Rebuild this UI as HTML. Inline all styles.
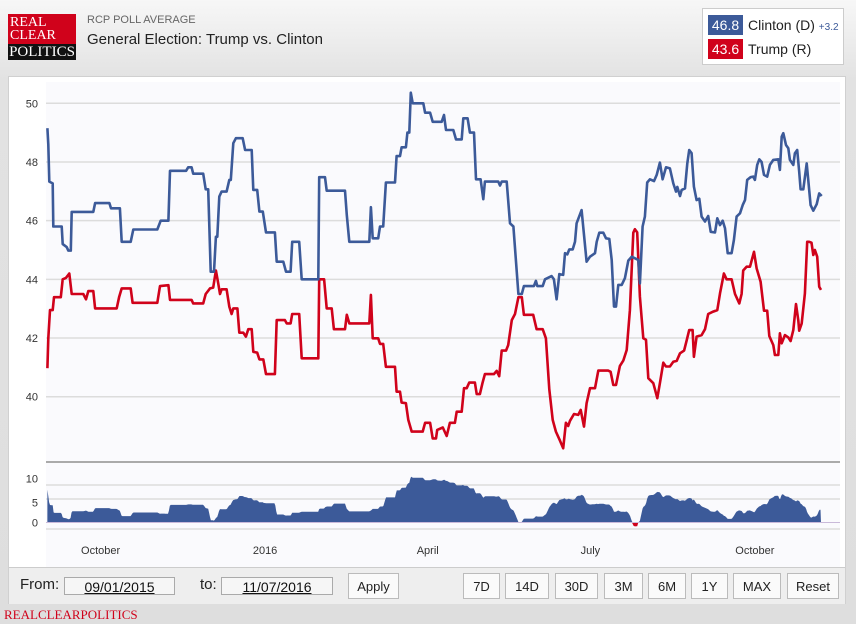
<!DOCTYPE html>
<html><head><meta charset="utf-8"><style>
body{margin:0;width:856px;height:624px;overflow:hidden;font-family:"Liberation Sans",sans-serif;background:linear-gradient(#f7f7f7,#e2e2e2 80px,#dedede);position:relative}
.abs{position:absolute}
.logo{left:8px;top:14px;width:68px;height:46px;background:#d0021b;font-family:"Liberation Serif",serif;color:#fff;font-size:14px;line-height:13px;padding:0}
.logo .b{position:absolute;left:0;top:30px;width:68px;height:16px;background:#111;font-size:15px;line-height:16px;text-align:center}
.legend{left:702px;top:8px;width:140px;height:55px;background:#fff;border:1px solid #ccc}
.badge{position:absolute;left:5px;width:35px;height:20px;color:#fff;font-size:14px;line-height:20px;text-align:center}
.lt{position:absolute;left:45px;font-size:14px;color:#222}
.panel{left:8px;top:76px;width:838px;height:528px;background:#fff;border:1px solid #d0d0d0;box-sizing:border-box}
.ctrl{left:9px;top:567px;width:836px;height:36px;background:#eee;border-top:1px solid #ccc}
.inp{position:absolute;top:9px;height:18px;border:1px solid #aaa;background:#f6f6f6;font-size:14px;text-align:center;line-height:18px;text-decoration:underline;color:#111;box-sizing:border-box}
.btn{position:absolute;top:5px;height:26px;border:1px solid #bbb;background:#fafafa;font-size:13px;line-height:26px;text-align:center;box-sizing:border-box;color:#222}
</style></head><body>
<div class="abs logo"><div style="padding:2px 0 0 2px">REAL<br>CLEAR</div><div class="b">POLITICS</div></div>
<div class="abs" style="left:87px;top:14px;font-size:11px;color:#666">RCP POLL AVERAGE</div>
<div class="abs" style="left:87px;top:31px;font-size:15px;color:#222">General Election: Trump vs. Clinton</div>
<div class="abs legend">
 <div class="badge" style="top:6px;background:#3c5a99">46.8</div>
 <div class="lt" style="top:8px">Clinton (D) <span style="font-size:10px;color:#3c5a99">+3.2</span></div>
 <div class="badge" style="top:30px;background:#d0021b">43.6</div>
 <div class="lt" style="top:32px">Trump (R)</div>
</div>
<div class="abs panel"></div>
<svg class="abs" style="left:0;top:0" width="856" height="624" id="chart"></svg>
<div class="abs ctrl">
 <div class="abs" style="left:11px;top:8px;font-size:15px;color:#222">From:</div>
 <div class="inp" style="left:55px;width:111px">09/01/2015</div>
 <div class="abs" style="left:191px;top:8px;font-size:15px;color:#222">to:</div>
 <div class="inp" style="left:212px;width:112px">11/07/2016</div>
 <div class="btn" style="left:339px;width:51px">Apply</div>
 <div class="btn" style="left:454px;width:37px">7D</div>
 <div class="btn" style="left:496px;width:44px">14D</div>
 <div class="btn" style="left:546px;width:43px">30D</div>
 <div class="btn" style="left:595px;width:39px">3M</div>
 <div class="btn" style="left:639px;width:38px">6M</div>
 <div class="btn" style="left:682px;width:37px">1Y</div>
 <div class="btn" style="left:724px;width:48px">MAX</div>
 <div class="btn" style="left:778px;width:52px">Reset</div>
</div>
<div class="abs" style="left:4px;top:607px;font-family:'Liberation Serif',serif;font-size:13px;color:#d0021b">REALCLEARPOLITICS</div>
<script>
const clintonDays=[0.2,0.7,1.3,3.2,3.5,8.2,8.8,11.0,11.9,13.3,13.8,25.9,26.9,34.9,35.8,40.8,41.8,46.8,48.3,61.7,63.6,67.9,68.8,77.8,79.0,80.9,81.8,87.4,88.8,90.2,91.6,93.4,94.5,95.3,96.4,97.7,100.5,102.0,102.8,104.2,105.7,109.5,110.8,114.5,115.4,117.6,118.8,120.7,122.5,127.5,128.5,132.2,133.7,136.3,137.2,141.1,142.5,151.8,152.3,155.5,156.5,166.7,167.7,169.1,180.3,181.2,182.2,185.3,186.3,188.1,189.6,194.7,195.6,197.5,198.4,200.8,201.6,202.7,203.5,204.6,210.5,211.5,214.3,215.8,220.8,222.1,223.2,227.3,228.8,232.0,232.9,235.3,236.6,238.9,240.0,242.6,244.1,245.0,252.5,253.4,254.4,257.2,259.0,260.9,263.7,265.6,266.8,272.4,273.5,274.3,277.3,278.6,282.3,283.6,285.1,286.6,288.8,289.8,291.1,292.2,294.1,295.4,296.3,299.1,301.9,303.8,306.6,307.5,309.0,311.2,312.7,314.6,315.9,317.2,318.3,319.6,321.5,323.3,325.2,327.1,329.5,330.8,331.7,333.2,334.5,335.8,337.3,339.6,341.1,342.9,344.4,346.3,348.5,350.4,351.9,352.6,354.1,355.1,356.9,358.2,359.3,360.6,361.9,363.4,364.9,366.2,368.1,369.9,371.3,373.7,375.0,376.5,378.0,379.3,380.8,383.0,384.3,385.8,387.7,389.2,390.5,391.7,393.6,395.1,396.0,397.3,398.5,399.8,401.1,402.9,404.4,406.3,409.1,410.0,411.0,411.9,413.4,414.7,415.6,417.5,418.4,419.7,420.8,421.6,423.1,425.0,427.2,428.7,430.6,432.0,433.4];
const clintonVals=[49.15,48.6,47.33,47.27,45.8,45.8,45.2,45.1,44.98,44.98,46.3,46.3,46.6,46.6,46.42,46.42,45.28,45.28,45.7,45.7,46.0,46.0,47.7,47.7,47.82,47.82,47.6,47.6,47.07,47.07,44.26,44.26,45.45,45.45,46.82,46.99,46.99,47.39,47.39,48.64,48.81,48.81,48.41,48.41,47.05,47.05,46.31,46.31,45.6,45.6,44.6,44.6,44.26,44.26,45.28,45.28,44.0,44.0,47.48,47.48,47.02,47.02,46.19,45.28,45.28,46.46,45.4,45.4,45.8,45.8,47.3,47.3,48.2,48.2,48.5,48.5,49.0,49.0,50.36,50.0,50.0,49.68,49.68,49.37,49.37,49.6,49.09,49.09,48.77,48.77,49.49,49.49,49.0,49.0,47.41,47.41,46.73,47.33,47.33,47.2,47.33,47.33,45.91,45.8,43.5,43.5,43.77,43.77,43.95,43.77,43.77,44.0,44.11,44.0,43.32,44.18,44.15,44.89,44.85,45.02,45.02,45.28,45.91,46.36,44.6,44.77,44.89,45.28,45.59,45.59,45.4,45.38,44.66,43.07,43.07,43.81,43.81,44.04,44.64,44.77,44.7,44.66,43.86,45.8,46.14,47.3,47.41,47.35,47.56,47.98,47.41,47.82,47.78,47.27,46.99,47.15,46.84,47.05,47.1,47.95,48.41,48.3,47.16,46.7,46.75,46.14,45.97,46.16,45.62,45.6,46.08,45.85,46.0,45.74,44.89,44.89,45.34,46.14,46.25,46.53,46.7,47.39,47.48,47.5,47.39,47.9,48.09,48.0,47.56,47.5,47.9,48.07,48.09,47.73,48.86,48.98,48.58,48.47,48.07,47.9,48.3,48.41,47.67,47.07,47.07,47.95,46.53,46.34,46.56,46.93,46.84];
const trumpDays=[0.2,0.7,1.7,3.2,3.9,7.7,8.8,10.6,12.5,13.8,20.3,21.8,23.1,25.9,26.9,39.0,40.4,41.8,46.8,47.9,61.7,63.2,67.9,68.8,80.9,81.8,87.4,88.8,91.2,93.0,94.5,95.8,96.8,97.7,100.5,102.0,103.3,104.2,106.5,107.6,109.8,111.3,112.6,114.5,115.4,117.6,118.8,121.0,122.5,127.5,128.5,133.1,134.1,136.3,137.2,141.1,142.5,151.8,152.3,155.0,156.5,159.3,160.5,166.7,167.7,169.1,180.3,181.2,182.2,185.3,186.3,188.1,189.6,194.7,195.6,197.5,198.4,200.8,202.1,204.0,210.2,211.5,214.3,215.8,217.6,218.3,221.4,223.6,225.4,228.2,229.2,232.0,233.3,234.8,236.2,239.4,240.4,242.2,243.7,245.0,250.0,251.6,253.0,254.4,256.8,258.0,260.0,261.8,263.7,265.6,266.8,272.0,273.9,277.3,279.1,281.0,282.9,284.7,287.0,288.8,290.3,291.6,292.6,294.8,297.2,298.6,300.4,301.9,303.8,306.6,308.4,314.0,315.3,316.8,318.3,320.5,322.4,324.3,326.1,328.0,328.9,330.2,331.7,333.6,335.1,336.4,339.2,341.4,342.9,344.8,346.3,348.5,350.4,352.3,354.1,356.4,357.8,359.3,361.2,361.9,363.4,366.2,368.1,369.9,372.7,375.0,376.5,378.7,380.2,383.0,384.9,387.3,388.6,389.5,391.4,393.3,395.5,397.0,399.2,401.1,402.9,404.1,406.3,407.2,409.1,410.0,411.0,412.8,414.7,416.0,417.5,419.0,420.3,420.8,422.2,424.0,425.3,426.4,427.7,428.7,429.6,430.9,432.0,433.0];
const trumpVals=[40.97,41.99,42.95,42.95,43.39,43.39,44.0,44.05,44.2,43.5,43.5,43.32,43.6,43.6,43.01,43.01,43.41,43.69,43.69,43.2,43.2,43.77,43.8,43.3,43.3,43.18,43.18,43.5,43.69,43.72,44.3,43.87,43.5,43.66,43.66,43.07,42.82,43.01,43.01,42.18,42.18,42.05,42.3,42.3,41.53,41.5,41.27,41.27,40.77,40.77,42.61,42.61,42.5,42.5,42.82,42.82,41.31,41.31,44.0,44.0,43.01,43.01,42.3,42.3,42.79,42.5,42.5,43.47,41.99,41.99,41.8,41.8,41.02,41.02,40.17,40.17,39.8,39.78,39.21,38.81,38.81,39.11,39.11,38.58,38.58,38.87,38.95,38.66,39.11,39.11,39.49,39.49,40.29,40.29,40.48,40.48,40.09,40.09,40.48,40.77,40.77,40.88,40.7,41.57,41.57,41.76,42.61,42.82,43.39,43.39,42.79,42.79,42.3,42.3,41.99,40.25,39.21,38.81,38.5,38.24,39.11,39.0,39.18,39.41,39.38,39.55,38.98,39.78,40.29,40.29,40.89,40.89,40.85,40.4,40.4,41.05,41.23,41.59,42.95,45.59,45.71,45.6,43.41,41.99,41.94,40.63,40.46,39.95,40.46,41.16,41.03,41.03,41.19,41.22,41.48,41.57,41.91,42.27,42.27,41.36,42.05,42.1,42.3,42.82,42.9,42.95,43.52,44.2,44.0,44.0,43.5,43.18,43.5,44.3,44.43,44.43,44.94,44.38,43.92,42.93,42.93,42.07,41.76,41.42,41.42,42.16,41.82,42.1,42.02,41.9,42.27,43.16,42.6,42.25,42.5,43.52,45.28,45.28,45.25,44.83,45.0,44.77,43.75,43.64];
const yTicks=[50,48,46,44,42,40];
const spreadTicks=[10,5,0];
const monthLabels=["October","2016","April","July","October"];
const monthDays=[30,122,213,304,396];

const svg=document.getElementById('chart');const NS='http://www.w3.org/2000/svg';
function mk(t,a,p){const e=document.createElementNS(NS,t);for(const k in a)e.setAttribute(k,a[k]);(p||svg).appendChild(e);return e;}
const X0=47,XK=1.7875;
const xS=d=>X0+d*XK;
const yS=v=>103.3+(50-v)*29.34;
const sY=v=>522.5-v*4.0;
// plot backgrounds
const bg=mk('rect',{x:46,y:82,width:794,height:485,fill:'#fafafd'});


yTicks.forEach(t=>{
 const g=mk('line',{x1:46,x2:840,y1:yS(t),y2:yS(t),stroke:'#dcdcdc','stroke-width':1.5});
 
 
 const l=mk('text',{x:38,y:yS(t)+4,'text-anchor':'end','font-size':11,fill:'#333','font-family':'Liberation Sans'});
 l.textContent=t;
 
 
});
const sep=mk('line',{x1:46,x2:840,y1:462,y2:462,stroke:'#aaa','stroke-width':2});


[485,499,529].forEach(y=>{const g=mk('line',{x1:46,x2:840,y1:y,y2:y,stroke:'#dcdcdc','stroke-width':1.5});
 
 });
spreadTicks.forEach(t=>{
 const l=mk('text',{x:38,y:sY(t)+4-(t==10?4:0),'text-anchor':'end','font-size':11,fill:'#333','font-family':'Liberation Sans'});
 l.textContent=t;
 
 
});
monthLabels.forEach((m,i)=>{
 const l=mk('text',{x:xS(monthDays[i]),y:554,'text-anchor':'middle','font-size':11,fill:'#333','font-family':'Liberation Sans'});
 l.textContent=m;
 
 
});
// spread area
function interp(ds,vs,d){if(d<=ds[0])return vs[0];for(let i=1;i<ds.length;i++){if(d<=ds[i]){const f=(d-ds[i-1])/((ds[i]-ds[i-1])||1);return vs[i-1]+f*(vs[i]-vs[i-1]);}}return vs[vs.length-1];}
let pos='M'+xS(0.2)+','+sY(0),neg=pos;
for(let d=0.2;d<=433.01;d+=0.5){const s=interp(clintonDays,clintonVals,d)-interp(trumpDays,trumpVals,d);
 pos+=' L'+xS(d).toFixed(1)+','+sY(Math.max(s,0)).toFixed(1);neg+=' L'+xS(d).toFixed(1)+','+sY(Math.min(s,0)).toFixed(1);}
pos+=' L'+xS(433)+','+sY(0)+'Z';neg+=' L'+xS(433)+','+sY(0)+'Z';
const ap=mk('path',{d:pos,fill:'#3c5a99'});


const an=mk('path',{d:neg,fill:'#d0021b'});


const bl=mk('line',{x1:46,x2:840,y1:sY(0),y2:sY(0),stroke:'#c9b9d9','stroke-width':1});


// lines
function line(ds,vs,c,n){const d=ds.map((v,i)=>(i?'L':'M')+xS(v).toFixed(1)+','+yS(vs[i]).toFixed(1)).join(' ');
 const p=mk('path',{d:d,fill:'none',stroke:c,'stroke-width':2.6,'stroke-linejoin':'round'});
 
 }
line(trumpDays,trumpVals,'#d0021b','trump-line');
line(clintonDays,clintonVals,'#3c5a99','clinton-line');
</script>
</body></html>
